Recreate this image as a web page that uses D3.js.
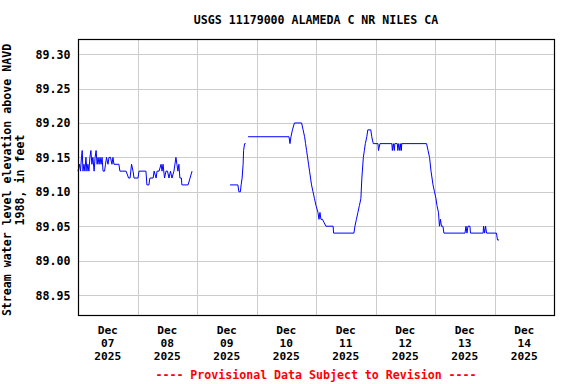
<!DOCTYPE html>
<html>
<head>
<meta charset="utf-8">
<script src="https://cdn.jsdelivr.net/npm/d3@7"></script>
<style>
  body { margin: 0; background: #fff; }
  svg text { font-family: "DejaVu Sans Mono", monospace; font-weight: bold; font-size: 11.6px; }
</style>
</head>
<body>
<svg id="chart" width="576" height="384"></svg>
<script>
// hours after 2025-12-07 00:00 and gage height (ft); null = gap in record
const hours = [
  0, 0.6, 1.0, 1.4, 1.7, 2.0, 2.4, 2.8, 3.2, 3.6, 4.0, 4.4, 4.8, 5.2, 5.6, 6.0, 6.5, 6.9,
  7.3, 7.7, 8.1, 8.5, 8.9, 9.3, 9.7, 10.1, 10.7, 11.1, 11.5, 12.1, 12.5, 13.1, 13.7, 14.1,
  14.5, 16.5, 16.9, 19.4, 20.4, 21.0, 21.6, 22.2, 22.6, 24.2, 24.6, 27.4, 27.8, 28.6, 29.0,
  30.3, 30.7, 31.5, 31.9, 32.7, 33.5, 33.9, 34.3, 34.9, 35.5, 36.1, 36.7, 37.3, 37.9, 38.7,
  39.5, 39.9, 40.3, 40.7, 41.1, 41.7, 41.9, 44.4, 45.2, 46.0,
  46.2,
  61.3, 64.5, 64.9, 65.5, 65.8, 66.2, 66.6, 66.8, 67.2, 67.6,
  68.0,
  68.6, 85.1, 85.5, 85.9, 86.5, 87.3, 90.2, 90.8, 91.4, 91.8, 92.2, 92.6, 93.0, 93.4, 93.8,
  94.2, 94.8, 95.4, 96.0, 96.8, 97.2, 97.6, 98.0, 98.6, 100.0, 102.9, 103.1, 111.3, 111.7,
  112.3, 112.9, 113.5, 114.1, 114.5, 115.1, 115.5, 115.9, 116.5, 116.9, 118.1, 118.5, 119.1,
  121.0, 121.2, 121.8, 126.6, 126.8, 127.2, 127.6, 127.8, 128.8, 129.0, 129.4, 129.8, 130.2,
  130.4, 130.6, 140.6, 141.2, 141.8, 142.4, 143.2, 143.8, 144.4, 144.8, 145.4, 145.8, 146.2,
  146.6, 147.2, 147.6, 156.1, 156.5, 156.9, 157.3, 158.1, 158.3, 163.4, 163.6, 164.0, 164.4,
  164.8, 168.8, 169.2, 169.8
];
const level = [
  89.13, 89.14, 89.13, 89.15, 89.16, 89.13, 89.14, 89.13, 89.15, 89.13, 89.14, 89.13, 89.15, 89.16, 89.14, 89.15, 89.13, 89.15,
  89.16, 89.14, 89.15, 89.14, 89.15, 89.14, 89.15, 89.13, 89.13, 89.14, 89.15, 89.14, 89.15, 89.15, 89.14, 89.15,
  89.14, 89.14, 89.13, 89.13, 89.12, 89.12, 89.14, 89.13, 89.12, 89.12, 89.13, 89.13, 89.11, 89.11, 89.12,
  89.12, 89.13, 89.12, 89.13, 89.13, 89.14, 89.13, 89.14, 89.12, 89.13, 89.13, 89.12, 89.13, 89.12, 89.13,
  89.15, 89.14, 89.13, 89.14, 89.12, 89.12, 89.11, 89.11, 89.12, 89.13,
  null,
  89.11, 89.11, 89.10, 89.10, 89.11, 89.12, 89.14, 89.16, 89.17, 89.17,
  null,
  89.18, 89.18, 89.17, 89.18, 89.19, 89.20, 89.20, 89.19, 89.18, 89.17, 89.16, 89.15, 89.14, 89.13, 89.12,
  89.11, 89.10, 89.09, 89.08, 89.07, 89.06, 89.07, 89.06, 89.06, 89.05, 89.05, 89.04, 89.04, 89.05,
  89.06, 89.07, 89.08, 89.09, 89.12, 89.15, 89.16, 89.17, 89.18, 89.19, 89.19, 89.18, 89.17,
  89.17, 89.16, 89.17, 89.17, 89.16, 89.17, 89.16, 89.17, 89.17, 89.16, 89.17, 89.16, 89.17,
  89.16, 89.17, 89.17, 89.16, 89.15, 89.13, 89.11, 89.10, 89.09, 89.08, 89.07, 89.05, 89.06,
  89.05, 89.05, 89.04, 89.04, 89.05, 89.04, 89.05, 89.05, 89.04, 89.04, 89.05, 89.04, 89.05,
  89.04, 89.04, 89.03, 89.03
];
const yTicks = [88.95, 89.00, 89.05, 89.10, 89.15, 89.20, 89.25, 89.30];
const dayLabels = ["Dec\n07\n2025", "Dec\n08\n2025", "Dec\n09\n2025", "Dec\n10\n2025",
                   "Dec\n11\n2025", "Dec\n12\n2025", "Dec\n13\n2025", "Dec\n14\n2025"];
const title = "USGS 11179000 ALAMEDA C NR NILES CA";
const yTitle = ["Stream water level elevation above NAVD", "1988, in feet"];
const footer = "---- Provisional Data Subject to Revision ----";

const start = new Date(2025, 11, 7);
const toDate = h => new Date(start.getTime() + h * 3600e3);
const data = hours.map((h, i) => ({ t: toDate(h), v: level[i] }));

const plotLeft = 78, plotRight = 554, plotTop = 39, plotBottom = 315;
const svg = d3.select("#chart");

const x = d3.scaleTime()
  .domain([start, toDate(24 * 8)])
  .range([plotLeft, plotRight]);
const y = d3.scaleLinear()
  .domain([88.921, 89.322])
  .range([plotBottom, plotTop]);

// grid
const days = d3.range(1, 8).map(d => toDate(d * 24));
svg.append("g")
  .selectAll("line")
  .data(days)
  .enter()
  .append("line")
  .attr("x1", d => Math.round(x(d)) + 0.5)
  .attr("x2", d => Math.round(x(d)) + 0.5)
  .attr("y1", plotTop)
  .attr("y2", plotBottom)
  .attr("stroke", "#cccccc");
svg.append("g")
  .selectAll("line")
  .data(yTicks)
  .enter()
  .append("line")
  .attr("x1", plotLeft)
  .attr("x2", plotRight)
  .attr("y1", d => Math.round(y(d)) + 0.5)
  .attr("y2", d => Math.round(y(d)) + 0.5)
  .attr("stroke", "#cccccc");

// data line
const line = d3.line()
  .defined(d => d.v !== null)
  .x(d => x(d.t))
  .y(d => y(d.v));
svg.append("path")
  .datum(data)
  .attr("d", line)
  .attr("fill", "none")
  .attr("stroke", "#0000ff")
  .attr("stroke-width", 1);

// frame
svg.append("rect")
  .attr("x", plotLeft + 0.5)
  .attr("y", plotTop + 0.5)
  .attr("width", plotRight - plotLeft)
  .attr("height", plotBottom - plotTop)
  .attr("fill", "none")
  .attr("stroke", "#000")
  .attr("stroke-width", 1.2);

// y tick labels
svg.append("g")
  .selectAll("text")
  .data(yTicks)
  .enter()
  .append("text")
  .attr("x", 70.5)
  .attr("y", d => y(d) + 4.5)
  .attr("text-anchor", "end")
  .text(d => d.toFixed(2));

// x labels at noon, three lines each
svg.append("g")
  .selectAll("text")
  .data(dayLabels)
  .enter()
  .append("text")
  .attr("text-anchor", "middle")
  .attr("x", (d, i) => x(toDate(i * 24 + 12)))
  .attr("y", 334)
  .style("font-size", "11.2px")
  .each(function (d) {
    const cx = d3.select(this).attr("x");
    d3.select(this)
      .selectAll("tspan")
      .data(d.split("\n"))
      .enter()
      .append("tspan")
      .attr("x", cx)
      .attr("dy", (s, j) => j === 0 ? 0 : 13)
      .text(s => s);
  });

// titles
svg.append("text")
  .attr("x", 316)
  .attr("y", 24)
  .attr("text-anchor", "middle")
  .text(title);

svg.append("g")
  .attr("transform", "translate(11,180) rotate(-90)")
  .selectAll("text")
  .data(yTitle)
  .enter()
  .append("text")
  .attr("text-anchor", "middle")
  .attr("y", (d, i) => i * 13)
  .text(d => d);

svg.append("text")
  .attr("x", 316)
  .attr("y", 379)
  .attr("text-anchor", "middle")
  .attr("fill", "#ff0000")
  .text(footer);
</script>
</body>
</html>
